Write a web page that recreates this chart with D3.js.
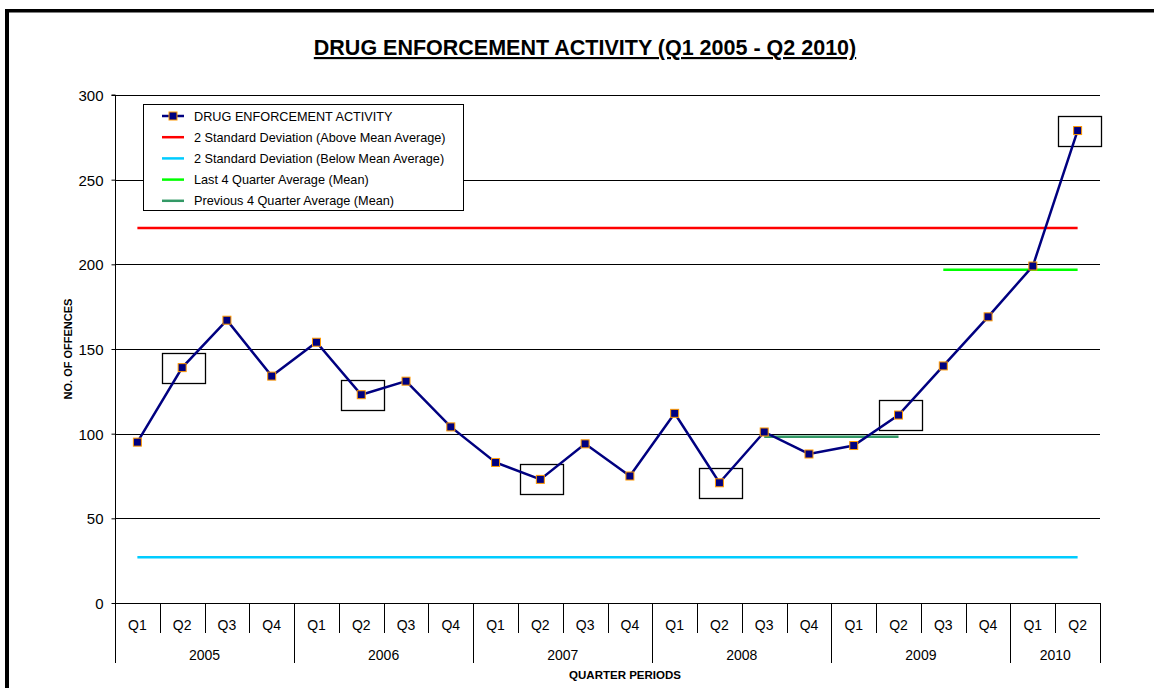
<!DOCTYPE html>
<html><head><meta charset="utf-8">
<script src="https://cdn.jsdelivr.net/npm/d3@7"></script>
<style>body{margin:0;background:#fff;} svg{display:block;font-family:Arial,"Liberation Sans",sans-serif;}</style>
</head><body>
<svg id="c" width="1154" height="688"></svg>
<script>
const years = ["2005","2006","2007","2008","2009","2010"];
const quarters = ["Q1","Q2","Q3","Q4"];
const periods = [
 ["2005","Q1"],["2005","Q2"],["2005","Q3"],["2005","Q4"],
 ["2006","Q1"],["2006","Q2"],["2006","Q3"],["2006","Q4"],
 ["2007","Q1"],["2007","Q2"],["2007","Q3"],["2007","Q4"],
 ["2008","Q1"],["2008","Q2"],["2008","Q3"],["2008","Q4"],
 ["2009","Q1"],["2009","Q2"],["2009","Q3"],["2009","Q4"],
 ["2010","Q1"],["2010","Q2"]];
const activity = [95,139,167,134,154,123,131,104,83,73,94,75,112,71,101,88,93,111,140,169,199,279];
const upperSD = 221.5;
const lowerSD = 27;
const last4Mean = 196.75;
const prev4Mean = 98.25;
const last4Range = [18,21];
const prev4Range = [14,17];
const highlighted = [1,5,9,13,17,21];
const yTicks = [0,50,100,150,200,250,300];
const seriesNames = ["DRUG ENFORCEMENT ACTIVITY","2 Standard Deviation (Above Mean Average)","2 Standard Deviation (Below Mean Average)","Last 4 Quarter Average (Mean)","Previous 4 Quarter Average (Mean)"];
const colors = {line:"#000080", marker:"#FF9900", up:"#FF0000", low:"#00CCFF", last:"#00FF00", prev:"#339966"};

const svg = d3.select("#c");
const L=115, R=1100, T=95, B=603;
const keys = periods.map((p,i)=>i);
const x = d3.scaleBand().domain(keys).range([L,R]);
const y = d3.scaleLinear().domain([0,300]).range([B,T]);
const cx = i => x(i)+x.bandwidth()/2;

// outer frame (left & top)
svg.append("rect").attr("x",5).attr("y",9).attr("width",4).attr("height",688).attr("fill","#000");
svg.append("rect").attr("x",5).attr("y",9).attr("width",1154).attr("height",3.5).attr("fill","#000");

// title
svg.append("text").attr("x",585).attr("y",55).attr("text-anchor","middle")
  .attr("font-size",21.5).attr("font-weight","bold").attr("text-decoration","underline")
  .text("DRUG ENFORCEMENT ACTIVITY (Q1 2005 - Q2 2010)");

// gridlines
svg.append("g").selectAll("line").data(yTicks.filter(d=>d>0)).join("line")
  .attr("x1",L).attr("x2",R).attr("y1",d=>Math.round(y(d))+0.5).attr("y2",d=>Math.round(y(d))+0.5)
  .attr("stroke","#000").attr("stroke-width",1).attr("shape-rendering","crispEdges");

// y axis
const ya = svg.append("g").attr("transform",`translate(${L+0.5},0)`)
  .call(d3.axisLeft(y).tickValues(yTicks).tickSize(4).tickPadding(8));
ya.select(".domain").attr("stroke","#000").attr("d",`M-4,${T}H0V${B}`);
ya.selectAll("text").attr("font-size",15).attr("font-family","Arial,'Liberation Sans',sans-serif").attr("fill","#000").attr("dy","0.36em");
ya.selectAll(".tick line").attr("stroke","#000");
svg.append("text").attr("transform",`translate(72,${(T+B)/2}) rotate(-90)`).attr("text-anchor","middle")
  .attr("font-size",11).attr("font-weight","bold").text("NO. OF OFFENCES");

// x axis baseline
svg.append("line").attr("x1",L).attr("x2",R).attr("y1",B+0.5).attr("y2",B+0.5).attr("stroke","#000");
// quarter separators
const seps = d3.range(0,23);
svg.append("g").selectAll("line").data(seps).join("line")
  .attr("x1",i=>Math.round(i<22?x(i):R)+0.5).attr("x2",i=>Math.round(i<22?x(i):R)+0.5)
  .attr("y1",B).attr("y2",i=>{ if(i===0||i===22) return 663; const p=periods[i]; return p[1]==="Q1"?663:633;})
  .attr("stroke","#000");
svg.append("g").selectAll("text").data(keys).join("text")
  .attr("x",i=>cx(i)).attr("y",630).attr("text-anchor","middle").attr("font-size",14)
  .text(i=>periods[i][1]);
svg.append("g").selectAll("text").data(years).join("text")
  .attr("x",yr=>{const idx=keys.filter(i=>periods[i][0]===yr); return (x(idx[0])+x(idx[idx.length-1])+x.bandwidth())/2;})
  .attr("y",660).attr("text-anchor","middle").attr("font-size",14).text(d=>d);
svg.append("text").attr("x",625).attr("y",679).attr("text-anchor","middle")
  .attr("font-size",11.5).attr("font-weight","bold").text("QUARTER PERIODS");

// reference lines
function hline(v,i0,i1,c){ svg.append("line").attr("x1",cx(i0)).attr("x2",cx(i1)).attr("y1",y(v)).attr("y2",y(v)).attr("stroke",c).attr("stroke-width",2.5); }
hline(upperSD,0,21,colors.up);
hline(lowerSD,0,21,colors.low);
hline(last4Mean,last4Range[0],last4Range[1],colors.last);
hline(prev4Mean,prev4Range[0],prev4Range[1],colors.prev);

// highlight boxes
svg.append("g").selectAll("rect").data(highlighted).join("rect")
  .attr("x",i=>Math.round(cx(i)-20)+0.5).attr("y",i=>Math.round(y(activity[i])-15)+0.5)
  .attr("width",43).attr("height",30).attr("fill","none").attr("stroke","#000").attr("stroke-width",1.3);

// main line
svg.append("path").datum(activity).attr("fill","none").attr("stroke",colors.line).attr("stroke-width",2.5)
  .attr("d",d3.line().x((d,i)=>cx(i)).y(d=>y(d)));
svg.append("g").selectAll("rect").data(activity).join("rect")
  .attr("x",(d,i)=>cx(i)-4).attr("y",d=>y(d)-4).attr("width",8).attr("height",8)
  .attr("fill",colors.line).attr("stroke",colors.marker).attr("stroke-width",1);

// legend
const lg = svg.append("g");
lg.append("rect").attr("x",143.5).attr("y",104.5).attr("width",320).attr("height",106).attr("fill","#fff").attr("stroke","#000").attr("stroke-width",1);
const lcols = [colors.line,colors.up,colors.low,colors.last,colors.prev];
seriesNames.forEach((n,k)=>{
  const yy = 116 + k*21.2;
  lg.append("line").attr("x1",162).attr("x2",184).attr("y1",yy).attr("y2",yy).attr("stroke",lcols[k]).attr("stroke-width",2.5);
  if(k===0) lg.append("rect").attr("x",169).attr("y",yy-4).attr("width",8).attr("height",8).attr("fill",colors.line).attr("stroke",colors.marker);
  lg.append("text").attr("x",194).attr("y",yy+4.5).attr("font-size",12.7).text(n);
});
</script>
</body></html>
